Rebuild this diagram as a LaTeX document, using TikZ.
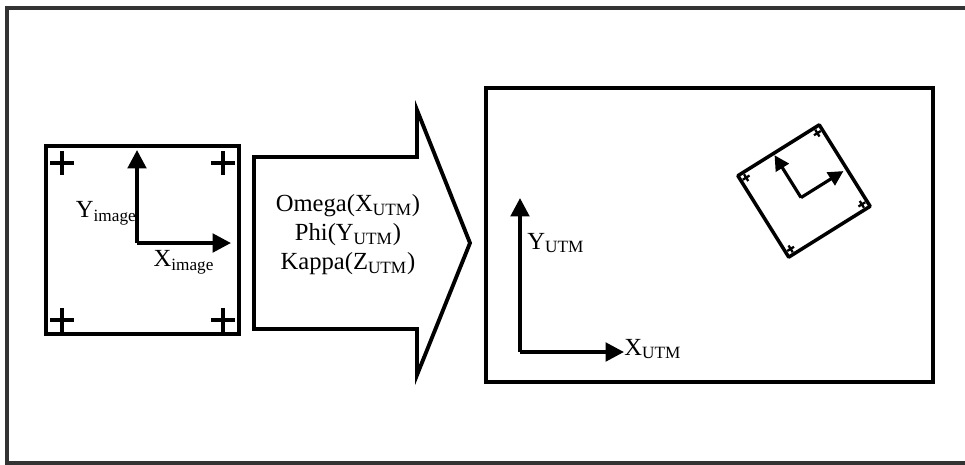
\documentclass[tikz,border=0pt]{standalone}
\usepackage{fontspec}
\setmainfont{Liberation Serif}
\usetikzlibrary{arrows.meta}

\begin{document}
\begin{tikzpicture}[x=0.02cm,y=-0.02cm,
  frame/.style={draw=black,line width=2.2pt},
  axis/.style={line width=2.2pt,-{Triangle[length=10.5pt,width=10.5pt]}},
  tinyaxis/.style={line width=1.8pt,-{Triangle[length=8.5pt,width=8.5pt]}},
  lbl/.style={font=\fontsize{14}{16}\selectfont,inner sep=0pt}]
\useasboundingbox (0,0) rectangle (965,464);
% outer frame, right side runs off the page
\draw[line width=2pt,gray!40!black] (985,8) -- (7,8) -- (7,463) -- (985,463);

% image frame
\draw[frame] (46,146) rectangle (239,334);
\foreach \cx/\cy in {62/163,223/163,62/320,223/320}
  \draw[line width=2pt] (\cx-12,\cy) -- (\cx+12,\cy) (\cx,\cy-12) -- (\cx,\cy+12);
\coordinate (io) at (137,243);
\coordinate (iy) at (137,150);
\coordinate (ix) at (231,243);
\draw[axis] (io) -- (iy);
\draw[axis] (io) -- (ix);
\node[lbl,anchor=east] (ylab) at (137,213) {Y\textsubscript{image}};
\node[lbl] (xlab) at (184,262) {X\textsubscript{image}};

% transformation arrow
\draw[frame,line join=miter] (254,157) -- (417,157) -- (417,110) -- (470,243)
  -- (417,375) -- (417,329) -- (254,329) -- cycle;
\node[lbl,align=center,font=\fontsize{14}{16.5}\selectfont] (rot) at (348,235)
  {Omega(X\textsubscript{UTM})\\Phi(Y\textsubscript{UTM})\\Kappa(Z\textsubscript{UTM})};

% ground frame
\draw[frame] (486,88) rectangle (933,382);
\coordinate (uo) at (520,352);
\coordinate (uy) at (520,198);
\coordinate (ux) at (624,352);
\draw[axis] (uo) -- (uy);
\draw[axis] (uo) -- (ux);
\node[lbl,anchor=west] (yutm) at (527,243) {Y\textsubscript{UTM}};
\node[lbl,anchor=west] (xutm) at (624,349) {X\textsubscript{UTM}};

% rotated image on the ground
\begin{scope}[shift={(804,191)},rotate=32]
  \draw[line width=2pt,line join=round] (-48,-48) rectangle (48,48);
  \foreach \cx/\cy in {-42/-42,42/-42,-42/42,42/42}
    \draw[line width=1.3pt] (\cx-4,\cy) -- (\cx+4,\cy) (\cx,\cy-4) -- (\cx,\cy+4);
  \coordinate (ro) at (-6,4);
  \coordinate (ry) at (-6,-46);
  \coordinate (rx) at (44,4);
  \draw[tinyaxis] (ro) -- (ry);
  \draw[tinyaxis] (ro) -- (rx);
\end{scope}
\end{tikzpicture}
\end{document}
